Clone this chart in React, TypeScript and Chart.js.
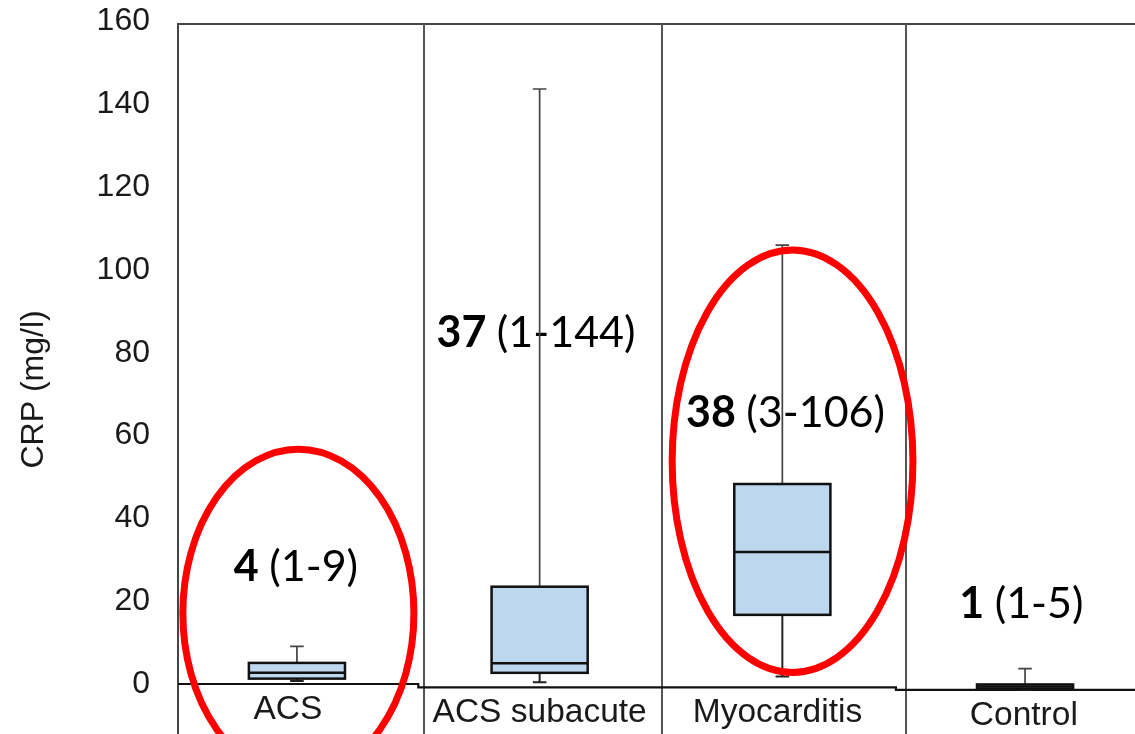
import { useEffect, useRef } from "react";
import { Chart, registerables } from "chart.js";

Chart.register(...registerables);

// ---------------- data ----------------
const categories = ["ACS", "ACS subacute", "Myocarditis", "Control"];
const whiskerLow = [0.7, 1.2, 2.6, 0];
const q1 = [1.3, 3.5, 17.5, 0.3];
const median = [2.7, 5.8, 32.7, 0.8];
const q3 = [5.1, 24.3, 49.1, 1.3];
const whiskerHigh = [9.1, 144.5, 106.8, 5.1];
const medianLabels = ["4", "37", "38", "1"];
const rangeLabels = ["(1-9)", "(1-144)", "(3-106)", "(1-5)"];
const yTicks = [0, 20, 40, 60, 80, 100, 120, 140, 160];
const highlighted = [0, 2];

// ---------------- layout / style ----------------
const X_MIN = -0.49;
const X_MAX = 3.453;
const Y_MIN = -12.07;
const Y_MAX = 160;
const panelShiftPx = [0, 3.3, 3.3, 5.8];
const baselineBreaks = [0.5, 2.468];
const baselineShifts = [0, 3.3, 5.8];
const separatorsX = [0.5216, 1.504, 2.5097];
const labelX = [-0.037, 1.0, 1.98, 2.995];
const annX = [-0.004, 0.985, 2.013, 2.985];
const annY = [28.5, 86, 66.7, 21];
const ellipses = [
  { panel: 0, x: 0.006, y: 17.1, rx: 0.476, ry: 39.6 },
  { panel: 2, x: 2.042, y: 54.6, rx: 0.496, ry: 51 },
];
const BOX_HALF = 0.198;
const CAP_HALF = 0.028;
const FRAME_TOP_OFFSET = 2.5;

const boxPlugin = {
  id: "boxPlotDraw",
  afterDatasetsDraw(chart: any) {
    const { ctx, chartArea, scales } = chart;
    const xs = scales.x;
    const ys = scales.y;
    const X = (v: number) => xs.getPixelForValue(v);
    const Y = (v: number, i: number) => ys.getPixelForValue(v) + panelShiftPx[i];
    const top = chartArea.top + FRAME_TOP_OFFSET;
    const bottom = chartArea.bottom;

    ctx.save();

    // frame: left, top, separators
    ctx.strokeStyle = "#454545";
    ctx.lineWidth = 2;
    ctx.beginPath();
    ctx.moveTo(chartArea.left, bottom);
    ctx.lineTo(chartArea.left, top);
    ctx.lineTo(chartArea.right, top);
    ctx.stroke();
    ctx.strokeStyle = "#555";
    separatorsX.forEach((sx) => {
      const px = Math.round(X(sx));
      ctx.beginPath();
      ctx.moveTo(px, top);
      ctx.lineTo(px, bottom);
      ctx.stroke();
    });

    // baseline (zero line) segments
    ctx.strokeStyle = "#111";
    ctx.lineWidth = 2.2;
    const zero = ys.getPixelForValue(0);
    const xsBreak = [X_MIN, ...baselineBreaks, X_MAX];
    ctx.beginPath();
    for (let s = 0; s < baselineShifts.length; s++) {
      const y0 = zero + baselineShifts[s];
      const xa = Math.max(X(xsBreak[s]), chartArea.left);
      const xb = Math.min(X(xsBreak[s + 1]), chartArea.right);
      if (s === 0) ctx.moveTo(xa, y0);
      else ctx.lineTo(xa, y0);
      ctx.lineTo(xb, y0);
    }
    ctx.stroke();

    // category labels
    ctx.fillStyle = "#1a1a1a";
    ctx.font = "33.5px 'Liberation Sans', Arial, sans-serif";
    ctx.textAlign = "center";
    ctx.textBaseline = "alphabetic";
    categories.forEach((c, i) => {
      ctx.fillText(c, X(labelX[i]), Y(0, i) + 34.8);
    });

    // y title
    ctx.save();
    ctx.font = "32px 'Liberation Sans', Arial, sans-serif";
    ctx.translate(43, 468.5);
    ctx.rotate(-Math.PI / 2);
    ctx.textAlign = "left";
    ctx.fillText("CRP (mg/l)", 0, 0);
    ctx.restore();

    // annotations
    const size = 43;
    categories.forEach((_, i) => {
      const boldTxt = medianLabels[i] + " ";
      const regTxt = rangeLabels[i];
      ctx.font = `bold ${size}px Lato, 'Noto Sans', sans-serif`;
      const wb = ctx.measureText(boldTxt).width;
      ctx.font = `${size}px Lato, 'Noto Sans', sans-serif`;
      const wr = ctx.measureText(regTxt).width;
      const cx = X(annX[i]);
      const base = Y(annY[i], i) + size * 0.358;
      const sx = cx - (wb + wr) / 2;
      ctx.textAlign = "left";
      ctx.fillStyle = "#000";
      ctx.font = `bold ${size}px Lato, 'Noto Sans', sans-serif`;
      ctx.fillText(boldTxt, sx, base);
      ctx.font = `${size}px Lato, 'Noto Sans', sans-serif`;
      ctx.fillText(regTxt, sx + wb, base);
    });

    // boxes and whiskers
    categories.forEach((_, i) => {
      const cx = X(i);
      const capW = X(i + CAP_HALF) - cx;
      const bl = X(i - BOX_HALF);
      const br = X(i + BOX_HALF);
      // upper whisker
      ctx.strokeStyle = "#444";
      ctx.lineWidth = 1.7;
      ctx.beginPath();
      ctx.moveTo(cx, Y(q3[i], i));
      ctx.lineTo(cx, Y(whiskerHigh[i], i));
      ctx.moveTo(cx - capW, Y(whiskerHigh[i], i));
      ctx.lineTo(cx + capW, Y(whiskerHigh[i], i));
      ctx.stroke();
      // lower whisker
      ctx.strokeStyle = "#222";
      ctx.lineWidth = 2;
      ctx.beginPath();
      ctx.moveTo(cx, Y(q1[i], i));
      ctx.lineTo(cx, Y(whiskerLow[i], i));
      ctx.moveTo(cx - capW, Y(whiskerLow[i], i));
      ctx.lineTo(cx + capW, Y(whiskerLow[i], i));
      ctx.stroke();
      // box
      const yt = Y(q3[i], i);
      const yb = Y(q1[i], i);
      ctx.fillStyle = "#bdd7ee";
      ctx.fillRect(bl, yt, br - bl, yb - yt);
      ctx.strokeStyle = "#111";
      ctx.lineWidth = 2.5;
      ctx.strokeRect(bl, yt, br - bl, yb - yt);
      // median
      ctx.beginPath();
      ctx.moveTo(bl, Y(median[i], i));
      ctx.lineTo(br, Y(median[i], i));
      ctx.stroke();
    });

    // highlight ellipses
    ctx.strokeStyle = "#ff0000";
    ctx.lineWidth = 7;
    ellipses.forEach((e) => {
      if (!highlighted.includes(e.panel)) return;
      const cx = X(e.x);
      const cy = Y(e.y, e.panel);
      const rx = Math.abs(X(e.x + e.rx) - cx);
      const ry = Math.abs(ys.getPixelForValue(e.y + e.ry) - ys.getPixelForValue(e.y));
      ctx.beginPath();
      ctx.ellipse(cx, cy, rx, ry, 0, 0, Math.PI * 2);
      ctx.stroke();
    });

    ctx.restore();
  },
};

export default function App() {
  const ref = useRef<HTMLCanvasElement>(null);
  useEffect(() => {
    document.body.style.margin = "0";
    const chart = new Chart(ref.current as HTMLCanvasElement, {
      type: "scatter",
      data: { datasets: [] },
      options: {
        animation: false,
        responsive: false,
        devicePixelRatio: 1,
        layout: { padding: { top: 21.5, left: 0, right: 0, bottom: 0 } },
        plugins: { legend: { display: false }, tooltip: { enabled: false } },
        scales: {
          x: { type: "linear", min: X_MIN, max: X_MAX, display: false },
          y: {
            type: "linear",
            min: Y_MIN,
            max: Y_MAX,
            grid: { display: false, drawTicks: false },
            border: { display: false },
            afterBuildTicks: (scale: any) => {
              scale.ticks = yTicks.map((v) => ({ value: v }));
            },
            afterFit: (scale: any) => {
              scale.width = 178;
              scale.paddingTop = 0;
              scale.paddingBottom = 0;
            },
            ticks: {
              padding: 28,
              color: "#1a1a1a",
              font: { family: "'Liberation Sans', Arial, sans-serif", size: 32 },
              callback: (v: any) => String(v),
            },
          },
        },
      },
      plugins: [boxPlugin],
    });
    return () => chart.destroy();
  }, []);
  return (
    <div style={{ width: 1135, height: 734 }}>
      <canvas ref={ref} width={1135} height={734} style={{ display: "block" }} />
    </div>
  );
}
